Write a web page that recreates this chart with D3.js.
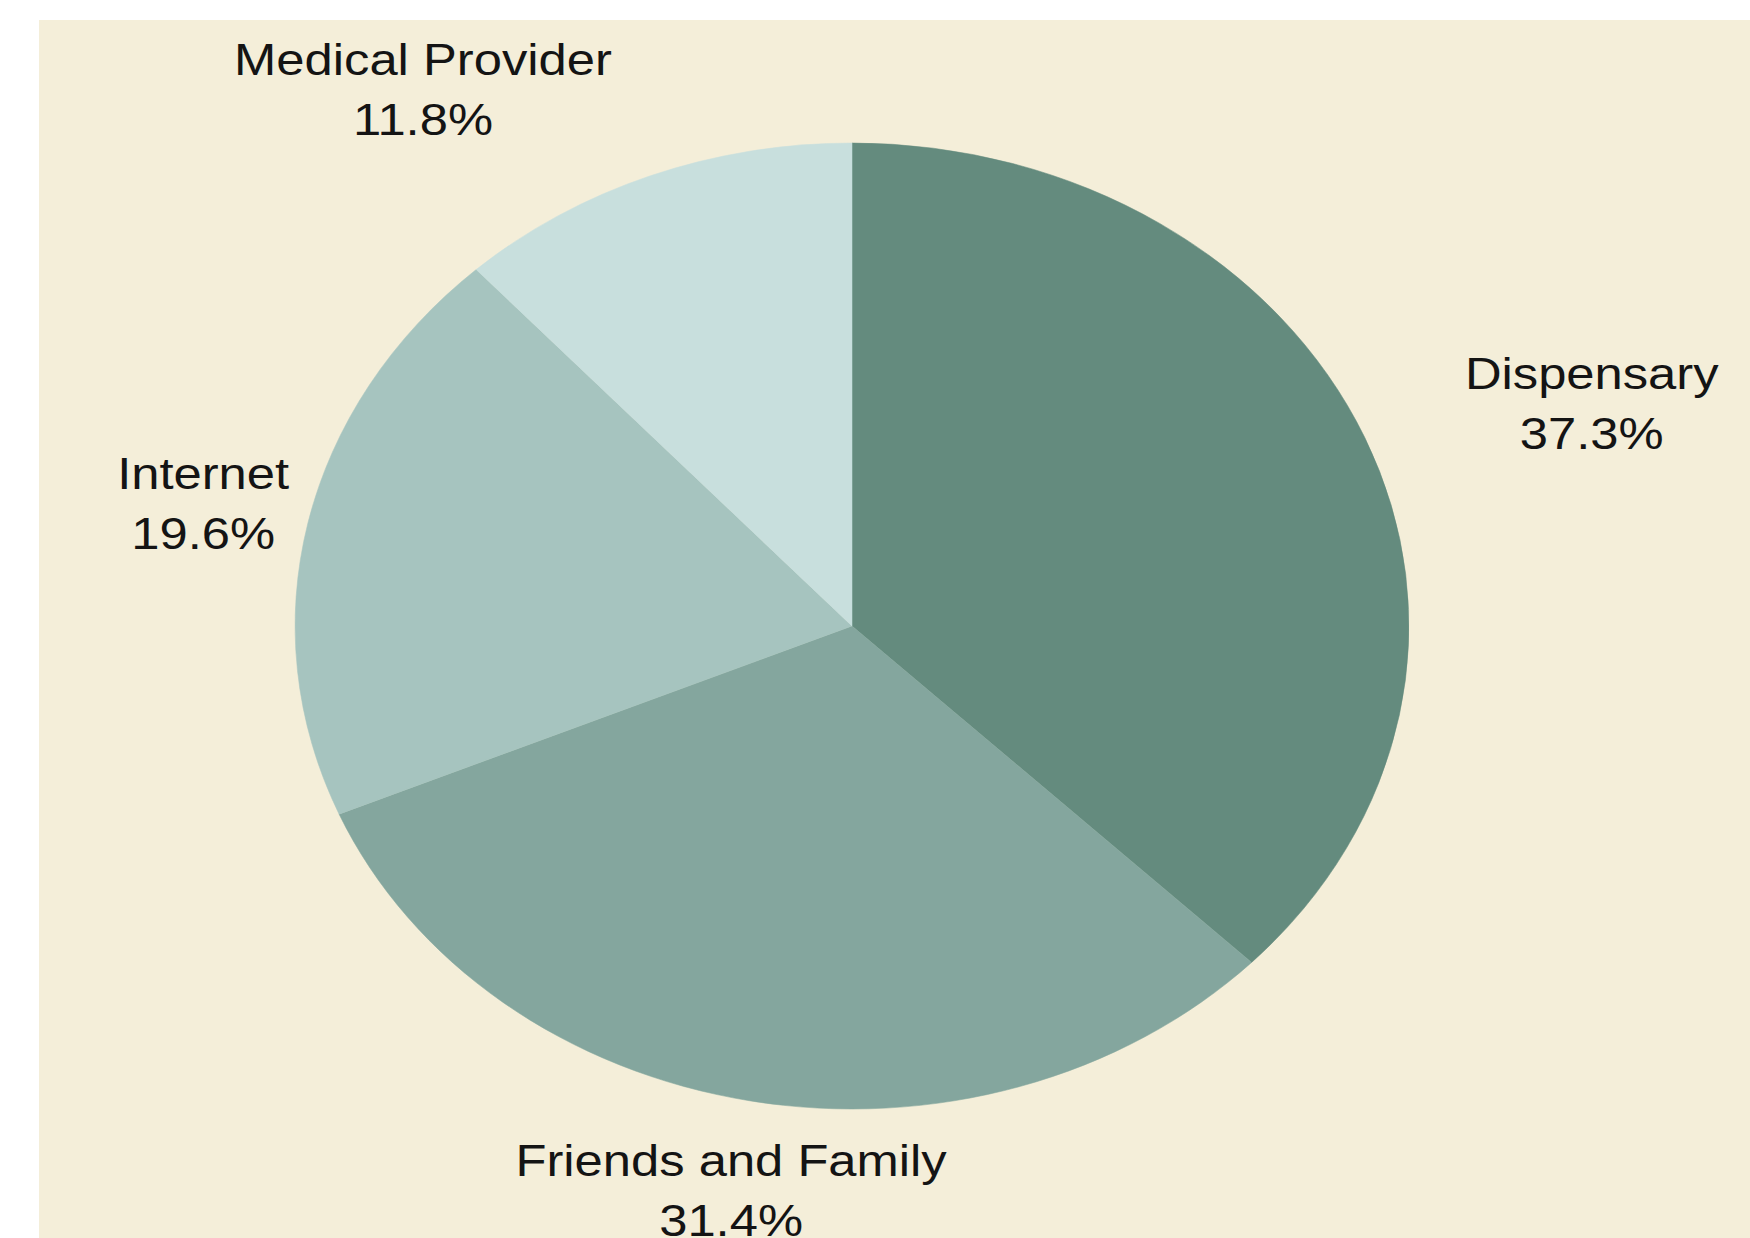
<!DOCTYPE html>
<html>
<head>
<meta charset="utf-8">
<script src="https://cdn.jsdelivr.net/npm/d3@7/dist/d3.min.js"></script>
<style>
  html, body { margin: 0; padding: 0; background: #ffffff; }
  svg { display: block; }
</style>
</head>
<body>
<svg id="chart" width="1750" height="1238"></svg>
<script>
// ---- data ----
const categories = ["Dispensary", "Friends and Family", "Internet", "Medical Provider"];
const values = [37.3, 31.4, 19.6, 11.8];
const valueLabels = ["37.3%", "31.4%", "19.6%", "11.8%"];
const colors = ["#648b7e", "#84a69e", "#a6c4bf", "#c8dfdd"];

// ---- layout ----
const W = 1750, H = 1238;
const cx = 852, cy = 626;
const radius = 483;            // vertical radius
const sx = 1.153;              // horizontal stretch of the picture
const labelRadius = 575;
const lineGap = 60;
// label nudges (layout only), in unstretched pixels
const labelNudge = [[112, -13], [1, -15], [-1, -14], [-164, -15]];

const svg = d3.select("#chart");

svg.append("rect")
  .attr("x", 39).attr("y", 20)
  .attr("width", W - 39).attr("height", H - 20)
  .attr("fill", "#f4eed9");

const g = svg.append("g")
  .attr("transform", `translate(${cx},${cy}) scale(${sx},1)`);

const data = categories.map((c, i) => ({ cat: c, value: values[i], label: valueLabels[i], color: colors[i], i }));

const pie = d3.pie().sort(null).value(d => d.value).startAngle(0).endAngle(2 * Math.PI);
const arcs = pie(data);

const arc = d3.arc().innerRadius(0).outerRadius(radius);
const labelArc = d3.arc().innerRadius(labelRadius).outerRadius(labelRadius);

g.selectAll("path.slice")
  .data(arcs)
  .join("path")
  .attr("class", "slice")
  .attr("d", arc)
  .attr("fill", d => d.data.color)
  .attr("stroke", d => d.data.color)
  .attr("stroke-width", 0.5);

const labels = g.selectAll("text.lbl")
  .data(arcs)
  .join("text")
  .attr("class", "lbl")
  .attr("transform", d => {
    const mid = (d.startAngle + d.endAngle) / 2;
    const [x, y] = labelArc.centroid({ startAngle: mid, endAngle: mid });
    const n = labelNudge[d.data.i];
    return `translate(${x + n[0]},${y + n[1]})`;
  })
  .attr("text-anchor", "middle")
  .attr("font-family", "'Liberation Sans', Arial, sans-serif")
  .attr("font-size", 44)
  .attr("fill", "#141414");

labels.append("tspan").attr("x", 0).attr("y", 0).text(d => d.data.cat);
labels.append("tspan").attr("x", 0).attr("y", lineGap).text(d => d.data.label);
</script>
</body>
</html>
